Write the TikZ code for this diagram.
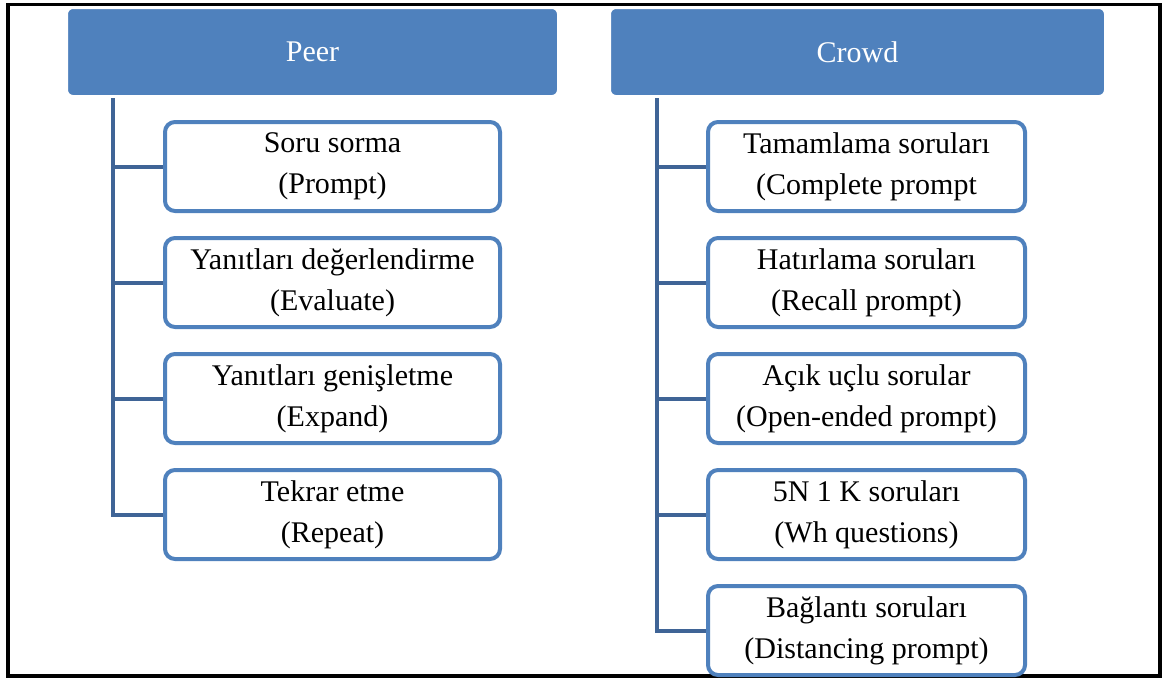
\documentclass[tikz,border=0pt]{standalone}
\usepackage{fontspec}
\setmainfont{Liberation Serif}
\definecolor{hdrblue}{RGB}{79,129,189}
\definecolor{trunkblue}{RGB}{63,100,150}
\tikzset{
  header/.style={fill=hdrblue, draw=white, line width=1pt, rounded corners=3pt, minimum height=44pt,
    inner sep=0pt, text=white, font=\fontsize{15}{18}\selectfont},
  item/.style={draw=hdrblue, fill=white, line width=2pt, rounded corners=5pt, minimum height=44.5pt,
    inner sep=0pt, align=center, font=\fontsize{15}{20.5}\selectfont},
  peeritem/.style={item, minimum width=167.5pt},
  crowditem/.style={item, minimum width=158.5pt},
  trunk/.style={draw=trunkblue, line width=2pt}
}
\begin{document}
\begin{tikzpicture}[x=0.5pt, y=-0.5pt, line join=miter]
\useasboundingbox (0,0) rectangle (1167,680);
\draw [line width=1.6pt] (8,4.5) rectangle (1160,676);

% column headers
\node [header, minimum width=245.5pt] (peer) at (312.5,52) {Peer};
\node [header, minimum width=247.5pt] (crowd) at (857.5,52) {Crowd};

% Peer
\node [peeritem] (p1) at (332.5,166.5) {Soru sorma\\(Prompt)};
\node [peeritem] (p2) at (332.5,282.5) {Yanıtları değerlendirme\\(Evaluate)};
\node [peeritem] (p3) at (332.5,398.5) {Yanıtları genişletme\\(Expand)};
\node [peeritem] (p4) at (332.5,514.5) {Tekrar etme\\(Repeat)};

% Crowd
\node [crowditem] (c1) at (866.5,166.5) {Tamamlama soruları\\(Complete prompt};
\node [crowditem] (c2) at (866.5,282.5) {Hatırlama soruları\\(Recall prompt)};
\node [crowditem] (c3) at (866.5,398.5) {Açık uçlu sorular\\(Open-ended prompt)};
\node [crowditem] (c4) at (866.5,514.5) {5N 1 K soruları\\(Wh questions)};
\node [crowditem] (c5) at (866.5,630.5) {Bağlantı soruları\\(Distancing prompt)};

% connectors
\coordinate (ptop) at (113,98);
\coordinate (ctop) at (657,98);
\draw [trunk] (ptop) |- (p4.west);
\foreach \n in {p1,p2,p3}
  \draw [trunk] (ptop |- \n.west) -- (\n.west);
\draw [trunk] (ctop) |- (c5.west);
\foreach \n in {c1,c2,c3,c4}
  \draw [trunk] (ctop |- \n.west) -- (\n.west);
\end{tikzpicture}
\end{document}
